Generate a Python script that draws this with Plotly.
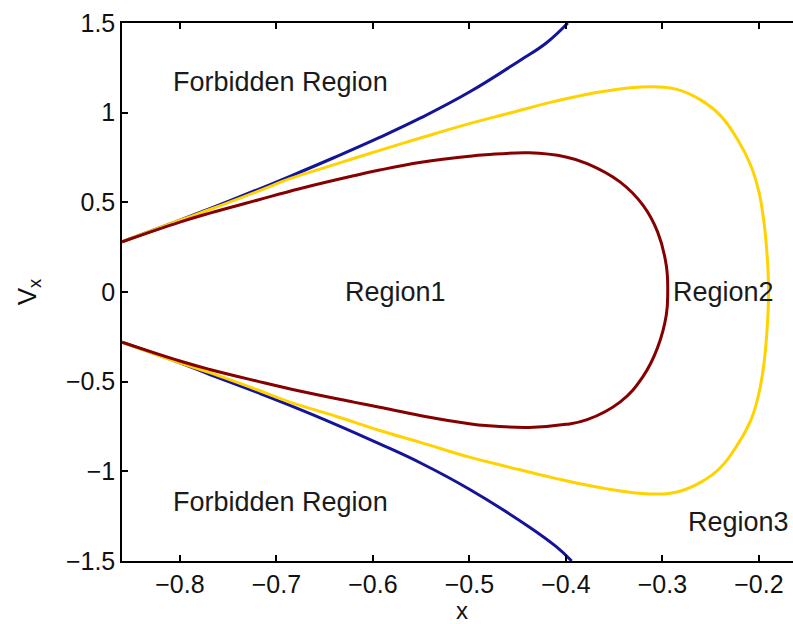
import plotly.graph_objects as go

# Forbidden-region boundary (blue), upper and lower branches
blue_up_x = [-0.86, -0.80, -0.769, -0.72, -0.686, -0.64, -0.593, -0.55, -0.50, -0.448, -0.42, -0.398]
blue_up_y = [0.28, 0.40, 0.465, 0.57, 0.645, 0.75, 0.862, 0.972, 1.115, 1.29, 1.39, 1.50]
blue_lo_x = [-0.86, -0.80, -0.769, -0.72, -0.686, -0.64, -0.593, -0.55, -0.50, -0.438, -0.41, -0.394]
blue_lo_y = [-0.28, -0.395, -0.46, -0.56, -0.632, -0.735, -0.847, -0.955, -1.10, -1.31, -1.42, -1.50]

# Yellow separatrix (upper and lower halves)
yel_up_x = [-0.86, -0.80, -0.769, -0.72, -0.686, -0.64, -0.593, -0.55, -0.50, -0.46, -0.414, -0.36,
            -0.313, -0.285, -0.26, -0.24, -0.222, -0.208, -0.20, -0.195, -0.192, -0.1905, -0.190]
yel_up_y = [0.28, 0.40, 0.46, 0.56, 0.632, 0.71, 0.79, 0.86, 0.939, 0.995, 1.06, 1.12,
            1.144, 1.13, 1.07, 0.985, 0.85, 0.70, 0.558, 0.40, 0.24, 0.11, 0.0]
yel_lo_x = [-0.86, -0.80, -0.769, -0.72, -0.686, -0.64, -0.593, -0.55, -0.50, -0.46, -0.414, -0.36,
            -0.313, -0.285, -0.26, -0.24, -0.222, -0.208, -0.20, -0.195, -0.192, -0.1905, -0.190]
yel_lo_y = [-0.28, -0.395, -0.45, -0.545, -0.614, -0.69, -0.772, -0.84, -0.921, -0.975, -1.035, -1.095,
            -1.126, -1.115, -1.06, -0.98, -0.85, -0.71, -0.565, -0.41, -0.245, -0.11, 0.0]

# Dark red loop (upper and lower halves)
red_up_x = [-0.86, -0.80, -0.769, -0.72, -0.676, -0.62, -0.593, -0.55, -0.50, -0.483, -0.438,
            -0.40, -0.378, -0.344, -0.32, -0.305, -0.296, -0.2945]
red_up_y = [0.28, 0.39, 0.44, 0.512, 0.576, 0.648, 0.68, 0.723, 0.757, 0.765, 0.776,
            0.753, 0.716, 0.614, 0.483, 0.335, 0.149, 0.0]
red_lo_x = [-0.86, -0.80, -0.769, -0.72, -0.676, -0.62, -0.593, -0.55, -0.50, -0.483, -0.438,
            -0.40, -0.378, -0.344, -0.32, -0.305, -0.296, -0.2945]
red_lo_y = [-0.28, -0.385, -0.432, -0.497, -0.552, -0.614, -0.643, -0.69, -0.735, -0.745, -0.755,
            -0.738, -0.712, -0.614, -0.47, -0.31, -0.13, 0.0]

x_ticks = [-0.8, -0.7, -0.6, -0.5, -0.4, -0.3, -0.2]
x_tick_text = ["−0.8", "−0.7", "−0.6", "−0.5", "−0.4", "−0.3", "−0.2"]
y_ticks = [-1.5, -1, -0.5, 0, 0.5, 1, 1.5]
y_tick_text = ["−1.5", "−1", "−0.5", "0", "0.5", "1", "1.5"]

labels = ["Forbidden Region", "Forbidden Region", "Region1", "Region2", "Region3"]
label_x = [-0.696, -0.696, -0.577, -0.2368, -0.2207]
label_y = [1.172, -1.172, 0.0, 0.0, -1.282]

BLUE = "#14149a"
YEL = "#ffd200"
RED = "#850000"
FONT = "Liberation Sans, Arial, Helvetica, sans-serif"

fig = go.Figure()
for xs, ys in [(blue_up_x, blue_up_y), (blue_lo_x, blue_lo_y)]:
    fig.add_trace(go.Scatter(x=xs, y=ys, mode="lines",
                             line=dict(color=BLUE, width=3, shape="spline", smoothing=1.2),
                             showlegend=False, hoverinfo="skip"))
for (ux, uy, lx, ly, col) in [(yel_up_x, yel_up_y, yel_lo_x, yel_lo_y, YEL),
                              (red_up_x, red_up_y, red_lo_x, red_lo_y, RED)]:
    xs = list(ux) + list(reversed(lx))[1:]
    ys = list(uy) + list(reversed(ly))[1:]
    fig.add_trace(go.Scatter(x=xs, y=ys, mode="lines",
                             line=dict(color=col, width=3, shape="spline", smoothing=1.2),
                             showlegend=False, hoverinfo="skip"))

for t, x, y in zip(labels, label_x, label_y):
    fig.add_annotation(x=x, y=y, text=t, showarrow=False,
                       font=dict(family=FONT, size=27, color="#1a1a1a"),
                       xanchor="center", yanchor="middle")

# x-axis title placed as paper annotation (below tick labels)
fig.add_annotation(x=0.507, y=-0.092, xref="paper", yref="paper", text="x", showarrow=False,
                   font=dict(family=FONT, size=24, color="#111111"),
                   xanchor="center", yanchor="middle")

x0 = -0.86
x1 = x0 + 671 / 965.0
fig.update_layout(
    width=793, height=624,
    margin=dict(l=122, r=0, t=23, b=63),
    paper_bgcolor="white", plot_bgcolor="white",
    font=dict(family=FONT, size=25, color="#111111"),
    xaxis=dict(range=[x0, x1], tickvals=x_ticks, ticktext=x_tick_text, automargin=False,
               showgrid=False, zeroline=False, showline=True, linecolor="black", linewidth=1.5,
               mirror="ticks", ticks="inside", ticklen=6, tickwidth=1.5, tickcolor="black"),
    yaxis=dict(range=[-1.5, 1.5], tickvals=y_ticks, ticktext=y_tick_text, automargin=False,
               showgrid=False, zeroline=False, showline=True, linecolor="black", linewidth=1.5,
               ticks="inside", ticklen=6, tickwidth=1.5, tickcolor="black",
               title=dict(text="V<sub>x</sub>", font=dict(size=26), standoff=22)),
)
fig.write_html("out.html", config={"displayModeBar": False},
               post_script="document.body.style.margin='0';document.body.style.overflow='hidden';")
